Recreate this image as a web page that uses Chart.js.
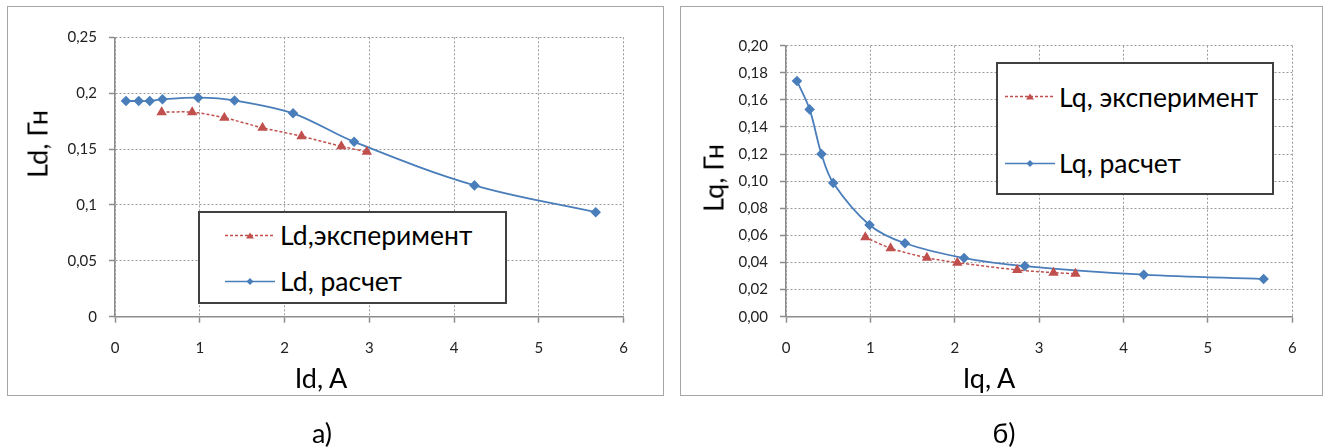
<!DOCTYPE html>
<html>
<head>
<meta charset="utf-8">
<script src="https://cdn.jsdelivr.net/npm/chart.js@4.4.1/dist/chart.umd.min.js"></script>
<style>
  body { margin: 0; background: #fff; font-family: Lato, "Open Sans", sans-serif; }
  #page { position: relative; width: 1327px; height: 448px; overflow: hidden; }
  .frame { position: absolute; border: 1.5px solid #a6a6a6; box-sizing: border-box; }
  canvas { position: absolute; }
  .txt { position: absolute; white-space: nowrap; color: #000; font-size: 27px; line-height: 1; }
  .legend { position: absolute; border: 2px solid #404040; box-sizing: border-box; background: #fff; }
  .legend svg { position: absolute; }
  .legend span { position: absolute; white-space: nowrap; font-size: 26.5px; line-height: 1; transform: translateY(-50%); }
</style>
</head>
<body>
<div id="page">
  <div class="frame" style="left:7px;top:6px;width:657px;height:390px"></div>
  <div class="frame" style="left:680px;top:6px;width:643px;height:390px"></div>
  <canvas id="chartD" width="653" height="385" style="left:9px;top:8px"></canvas>
  <canvas id="chartQ" width="638" height="385" style="left:682px;top:8px"></canvas>
</div>
<script>
// Ld(Id): расчет / эксперимент
const idCalc = [0.13, 0.28, 0.41, 0.56, 0.98, 1.41, 2.10, 2.82, 4.24, 5.67];
const ldCalc = [0.193, 0.193, 0.193, 0.1945, 0.196, 0.1935, 0.182, 0.1565, 0.1175, 0.0935];
const idExp = [0.55, 0.91, 1.29, 1.74, 2.20, 2.67, 2.97];
const ldExp = [0.183, 0.183, 0.178, 0.169, 0.1615, 0.1525, 0.1475];

// Lq(Iq): расчет / эксперимент
const iqCalc = [0.13, 0.28, 0.42, 0.56, 0.99, 1.41, 2.11, 2.83, 4.24, 5.66];
const lqCalc = [0.174, 0.153, 0.120, 0.0987, 0.0677, 0.0542, 0.0433, 0.0374, 0.031, 0.0278];
const iqExp = [0.94, 1.24, 1.67, 2.03, 2.74, 3.17, 3.43];
const lqExp = [0.0586, 0.0505, 0.0435, 0.0399, 0.0345, 0.0325, 0.0317];

const xTicks = [0, 1, 2, 3, 4, 5, 6];
const ldTickLabels = ['0', '0,05', '0,1', '0,15', '0,2', '0,25'];
const lqTickLabels = ['0,00', '0,02', '0,04', '0,06', '0,08', '0,10', '0,12', '0,14', '0,16', '0,18', '0,20'];

const RED = '#c0504d';
const BLUE = '#4a7ebb';

const toPoints = (xs, ys) => xs.map((x, i) => ({ x: x, y: ys[i] }));

let makeChart = (id, cfg) => {
    const ctx = document.getElementById(id);
    return new Chart(ctx, {
        type: 'scatter',
        data: {
            datasets: [{
                label: cfg.expLabel,
                data: toPoints(cfg.expX, cfg.expY),
                showLine: true,
                borderColor: RED,
                backgroundColor: RED,
                borderWidth: 1.5,
                borderDash: [3, 2],
                pointStyle: 'triangle',
                pointRadius: 4.5,
                tension: 0.3
            }, {
                label: cfg.calcLabel,
                data: toPoints(cfg.calcX, cfg.calcY),
                showLine: true,
                borderColor: BLUE,
                backgroundColor: BLUE,
                borderWidth: 1.8,
                pointStyle: 'rectRot',
                pointRadius: 4,
                tension: 0.35
            }]
        },
        options: {
            responsive: false,
            animation: false,
            devicePixelRatio: 1,
            layout: { padding: cfg.padding },
            plugins: { legend: { display: false }, tooltip: { enabled: false } },
            scales: {
                x: {
                    type: 'linear',
                    min: 0, max: 6,
                    afterBuildTicks: s => { s.ticks = xTicks.map(v => ({ value: v })); },
                    afterFit: s => { s.height = 76.3; },
                    ticks: { color: '#222', font: { family: 'Lato', size: 15 }, padding: 16,
                             callback: v => String(v) },
                    grid: { color: '#9a9a9a', lineWidth: 1, tickLength: 6, tickColor: '#8c8c8c', tickWidth: 1.5 },
                    border: { color: '#8c8c8c', width: 1.5, dash: [2, 2] }
                },
                y: {
                    min: 0, max: cfg.yMax,
                    afterBuildTicks: s => { s.ticks = cfg.yLabels.map((t, i) => ({ value: i * cfg.yStep })); },
                    afterFit: s => { s.width = cfg.yWidth; },
                    ticks: { color: '#222', font: { family: 'Lato', size: 15 }, padding: 12,
                             callback: (v, i) => cfg.yLabels[i] },
                    grid: { color: '#9a9a9a', lineWidth: 1, tickLength: 6, tickColor: '#8c8c8c', tickWidth: 1.5 },
                    border: { color: '#8c8c8c', width: 1.5, dash: [2, 2] }
                }
            }
        }
    });
};

makeChart('chartD', {
    expLabel: 'Ld,эксперимент', calcLabel: 'Ld, расчет',
    expX: idExp, expY: ldExp, calcX: idCalc, calcY: ldCalc,
    yMax: 0.25, yStep: 0.05, yLabels: ldTickLabels, yWidth: 106,
    padding: { top: 29.3, right: 38.3, bottom: 0, left: 0 }
});

makeChart('chartQ', {
    expLabel: 'Lq, эксперимент', calcLabel: 'Lq, расчет',
    expX: iqExp, expY: lqExp, calcX: iqCalc, calcY: lqCalc,
    yMax: 0.2, yStep: 0.02, yLabels: lqTickLabels, yWidth: 104,
    padding: { top: 37.7, right: 27.7, bottom: 0, left: 0 }
});

// texts and legends (html)
const page = document.getElementById('page');

let addText = (text, cx, cy, rotate) => {
    const el = document.createElement('div');
    el.className = 'txt';
    el.textContent = text;
    el.style.left = cx + 'px';
    el.style.top = cy + 'px';
    el.style.transform = 'translate(-50%, -50%)' + (rotate ? ' rotate(-90deg)' : '');
    page.appendChild(el);
};

addText('Ld, Гн', 37, 144, true);
addText('Id, A', 321, 377, false);
addText('а)', 322, 432, false);
addText('Lq, Гн', 713, 177.5, true);
addText('Iq, A', 989, 377, false);
addText('б)', 1004, 432, false);

const sampleSvg = (color, dashed, marker) => {
    const m = marker === 'tri'
        ? `<polygon points="25,2.5 29,8.5 21,8.5" fill="${color}"/>`
        : `<polygon points="25,2 28.5,5.5 25,9 21.5,5.5" fill="${color}"/>`;
    return `<svg width="50" height="11" viewBox="0 0 50 11"><line x1="0" y1="5.5" x2="50" y2="5.5" stroke="${color}" stroke-width="1.5" ${dashed ? 'stroke-dasharray="3,2"' : ''}/>${m}</svg>`;
};

let addLegend = (box, rows) => {
    const lg = document.createElement('div');
    lg.className = 'legend';
    lg.style.left = box.x + 'px';
    lg.style.top = box.y + 'px';
    lg.style.width = box.w + 'px';
    lg.style.height = box.h + 'px';
    rows.forEach(r => {
        const holder = document.createElement('div');
        holder.innerHTML = sampleSvg(r.color, r.dashed, r.marker);
        const svg = holder.firstChild;
        svg.style.left = (r.lineX - box.x - 2) + 'px';
        svg.style.top = (r.y - box.y - 2 - 5.5) + 'px';
        lg.appendChild(svg);
        const sp = document.createElement('span');
        sp.textContent = r.text;
        sp.style.left = (r.textX - box.x - 2) + 'px';
        sp.style.top = (r.y - box.y - 2) + 'px';
        lg.appendChild(sp);
    });
    page.appendChild(lg);
};

addLegend({ x: 197.7, y: 211, w: 309, h: 93.3 }, [
    { text: 'Ld,эксперимент', color: RED, dashed: true, marker: 'tri', y: 235, lineX: 225, textX: 280 },
    { text: 'Ld, расчет', color: BLUE, dashed: false, marker: 'dia', y: 281, lineX: 225, textX: 280 }
]);
addLegend({ x: 996, y: 62, w: 278, h: 133 }, [
    { text: 'Lq, эксперимент', color: RED, dashed: true, marker: 'tri', y: 96.7, lineX: 1005, textX: 1059 },
    { text: 'Lq, расчет', color: BLUE, dashed: false, marker: 'dia', y: 163, lineX: 1005, textX: 1059 }
]);
</script>
</body>
</html>
